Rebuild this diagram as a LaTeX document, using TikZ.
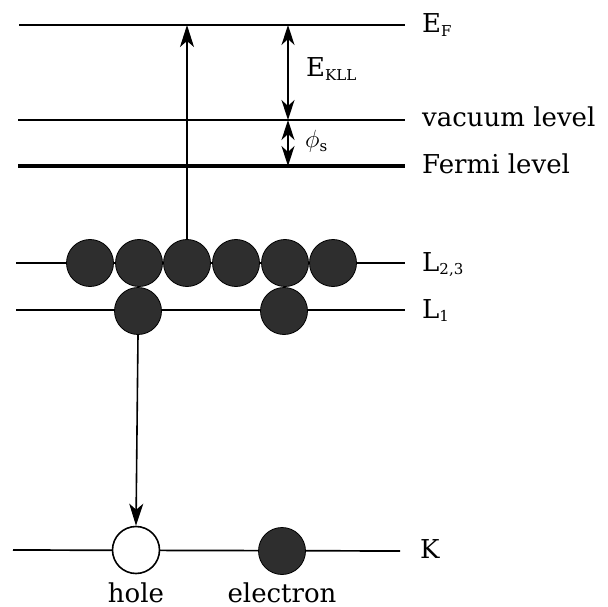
\documentclass[tikz,border=0pt]{standalone}
\usepackage{fontspec}
\setmainfont{DejaVu Serif}
\usetikzlibrary{arrows.meta}
\newcommand{\sbs}[1]{\raisebox{-0.25ex}{\fontsize{15}{15}\selectfont #1}}
\begin{document}
\begin{tikzpicture}[x=1pt,y=-1pt,
  level/.style={line width=1.7pt},
  thick level/.style={line width=3.2pt},
  el/.style={circle,fill=black!82,draw=black,line width=0.8pt,minimum size=47pt,inner sep=0pt},
  holec/.style={circle,fill=white,draw=black,line width=1.6pt,minimum size=47pt,inner sep=0pt},
  lab/.style={anchor=base west,inner sep=0pt,font=\fontsize{26}{30}\selectfont},
  arr/.style={line width=1.6pt,-{Stealth[length=22pt,width=14pt,inset=6pt]}},
  darr/.style={line width=1.6pt,{Stealth[length=20pt,width=13pt,inset=6pt]}-{Stealth[length=20pt,width=13pt,inset=6pt]}}]
\useasboundingbox (0,0) rectangle (608,607);
% energy levels
\coordinate (efL) at (19,25);   \coordinate (efR) at (405,25);
\coordinate (vacL) at (18,120); \coordinate (vacR) at (405,120);
\coordinate (feL) at (18,166);  \coordinate (feR) at (405,166);
\draw[level] (efL) -- (efR);
\draw[level] (vacL) -- (vacR);
\draw[thick level] (feL) -- (feR);
% labels
\node[lab] (lEF) at (422,33) {E\sbs{F}};
\node[lab] (lvac) at (422,127) {vacuum level};
\node[lab] (lfe) at (422,174) {Fermi level};
\node[lab] (lL23) at (422,271) {L\sbs{2,3}};
\node[lab] (lL1) at (422,318) {L\sbs{1}};
\node[lab] (lK) at (420,558) {K};
% L2,3
\coordinate (l23L) at (16,263); \coordinate (l23R) at (405,263);
\draw[level] (l23L) -- (l23R);
\node[el] (a1) at (90,263) {};
\node[el] (a2) at (139,263) {};
\node[el] (a3) at (187,263) {};
\node[el] (a4) at (236,263) {};
\node[el] (a5) at (285,263) {};
\node[el] (a6) at (333,263) {};
% L1
\coordinate (l1L) at (16,310); \coordinate (l1R) at (405,310);
\draw[level] (l1L) -- (l1R);
\node[el] (b1) at (138,311) {};
\node[el] (b2) at (284,311) {};
% K
\coordinate (kL) at (13,550); \coordinate (kR) at (400,551);
\draw[level] (kL) -- (kR);
\node[holec] (h) at (136,550) {};
\node[el] (e) at (282,551) {};
\node[font=\fontsize{26}{30}\selectfont,anchor=base,inner sep=0pt] (lh) at (136,602) {hole};
\node[font=\fontsize{26}{30}\selectfont,anchor=base,inner sep=0pt] (le) at (282,602) {electron};
% transitions
\coordinate (efA) at (a3 |- efL);
\draw[arr] (a3.north) -- (efA);
\draw[arr] (b1.south) -- (h.north);
% energy differences
\coordinate (d1) at (288,25); \coordinate (d2) at (288,120); \coordinate (d3) at (288,166);
\draw[darr] (d1) -- (d2);
\draw[darr] (d2) -- (d3);
\node[lab] (lE) at (306,77) {E\sbs{KLL}};
\node[lab,font=\fontsize{24}{28}\selectfont] (lphi) at (305,148) {$\phi$\sbs{s}};
\end{tikzpicture}
\end{document}
